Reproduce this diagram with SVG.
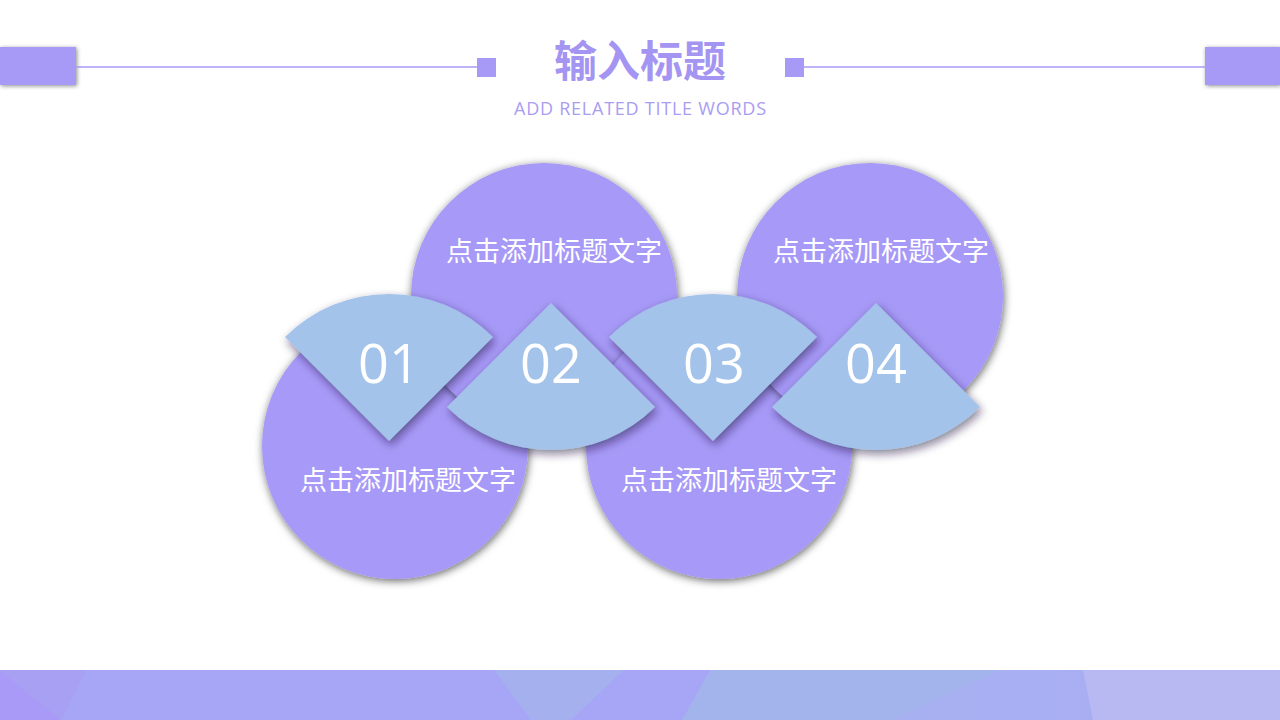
<svg xmlns="http://www.w3.org/2000/svg" width="1280" height="720" viewBox="0 0 1280 720">
<defs>
<filter id="sh" x="-20%" y="-20%" width="140%" height="140%"><feDropShadow dx="1" dy="2" stdDeviation="4" flood-color="#000" flood-opacity="0.6"/></filter>
<filter id="fsh" x="-20%" y="-20%" width="140%" height="140%"><feDropShadow dx="2" dy="4" stdDeviation="5" flood-color="#201040" flood-opacity="0.55"/></filter>
<filter id="rsh" x="-20%" y="-40%" width="140%" height="180%"><feDropShadow dx="1" dy="1" stdDeviation="2" flood-color="#000" flood-opacity="0.45"/></filter>
<linearGradient id="mid" x1="0" y1="0" x2="1" y2="0"><stop offset="0" stop-color="#a7b0f0"/><stop offset="1" stop-color="#a9aef3"/></linearGradient>
</defs>
<style>
.circ{fill:#a799f7;filter:url(#sh)}
.fan{fill:#a4c3ea;filter:url(#fsh)}
.lbl{font-family:"Noto Sans CJK SC","Noto Sans",sans-serif;font-size:27px;fill:#ffffff;text-anchor:middle}
.num{font-family:"Open Sans","Noto Sans",sans-serif;font-weight:normal;font-size:54px;fill:#ffffff;text-anchor:middle}
.hdr{fill:#a799f6}
.hline{stroke:#a89af5;stroke-width:1.3}
</style>
<rect x="0" y="0" width="1280" height="720" fill="#ffffff"/>

<g id="header">
<rect class="hdr" x="0" y="47" width="76" height="38" filter="url(#rsh)"/>
<rect class="hdr" x="1205" y="47" width="75" height="38" filter="url(#rsh)"/>
<line class="hline" x1="76" y1="67" x2="478" y2="67"/>
<line class="hline" x1="803" y1="67" x2="1205" y2="67"/>
<rect class="hdr" x="477" y="58" width="19" height="19"/>
<rect class="hdr" x="785" y="58" width="19" height="19"/>
<text x="640" y="77" font-family="Noto Sans CJK SC, sans-serif" font-weight="bold" font-size="43" fill="#a495f2" text-anchor="middle">输入标题</text>
<text x="640" y="115" font-family="Open Sans, sans-serif" font-size="18" fill="#a99cf3" text-anchor="middle" textLength="252" lengthAdjust="spacing">ADD RELATED TITLE WORDS</text>
</g>

<g id="circle-1"><circle class="circ" cx="395" cy="446" r="133"/><text class="lbl" x="408" y="490">点击添加标题文字</text></g>
<g id="circle-2"><circle class="circ" cx="544" cy="296" r="133"/><text class="lbl" x="554" y="261">点击添加标题文字</text></g>
<g id="circle-3"><circle class="circ" cx="719" cy="446" r="133"/><text class="lbl" x="729" y="490">点击添加标题文字</text></g>
<g id="circle-4"><circle class="circ" cx="870" cy="296" r="133"/><text class="lbl" x="881" y="261">点击添加标题文字</text></g>

<g id="badge-01"><path class="fan" d="M389,441 L285,337 A147,147 0 0 1 493,337 Z"/><text class="num" x="389" y="383">01</text></g>
<g id="badge-02"><path class="fan" d="M551,303 L655,407 A147,147 0 0 1 447,407 Z"/><text class="num" x="551" y="383">02</text></g>
<g id="badge-03"><path class="fan" d="M713,441 L609,337 A147,147 0 0 1 817,337 Z"/><text class="num" x="714" y="383">03</text></g>
<g id="badge-04"><path class="fan" d="M876,303 L980,407 A147,147 0 0 1 772,407 Z"/><text class="num" x="876" y="383">04</text></g>

<g id="footer">
<rect x="0" y="670" width="1280" height="50" fill="#a7a5f5"/>
<polygon points="0,670 86,670 61,720 0,720" fill="#a7a0f3"/>
<polygon points="0,671 61,720 0,720" fill="#a99af7"/>
<polygon points="494,670 624,670 571,720 531,720" fill="#a5b0ef"/>
<polygon points="710,670 1000,670 893,720 682,720" fill="#a3b4ec"/>
<polygon points="1000,670 1085,670 1093,720 893,720" fill="url(#mid)"/>
<polygon points="1083,670 1280,670 1280,720 1093,720" fill="#b8b8f2"/>
</g>
</svg>
